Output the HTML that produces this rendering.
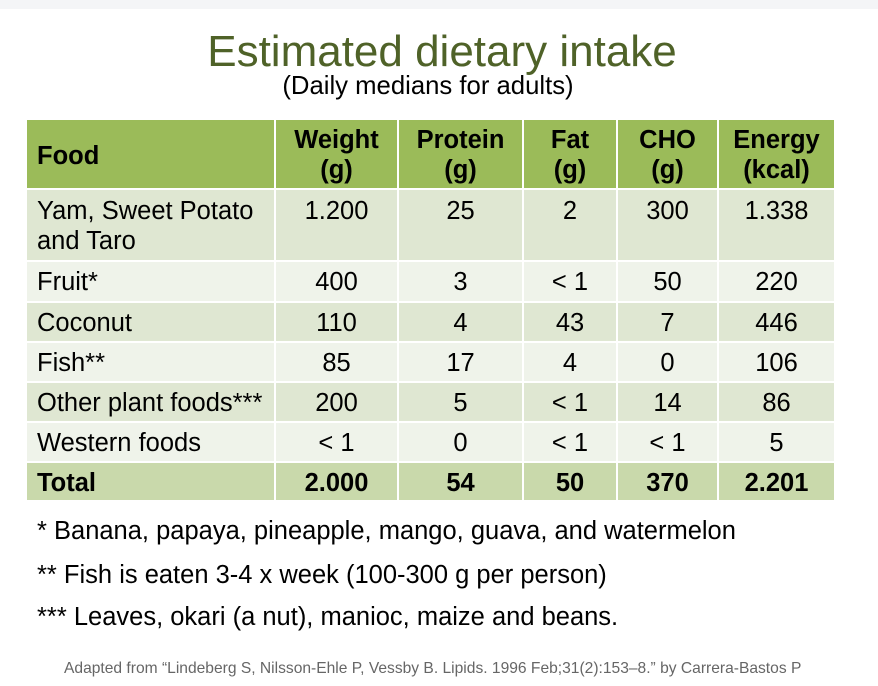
<!DOCTYPE html>
<html><head><meta charset="utf-8"><style>
body{margin:0;width:878px;height:686px;background:#fff;font-family:"Liberation Sans",Arial,sans-serif;position:relative;overflow:hidden;color:#000}
.top{position:absolute;left:0;top:0;width:878px;height:9px;background:#f4f5f7}
.t{position:absolute;white-space:nowrap}
.c{position:absolute;box-sizing:border-box;font-size:25.5px;line-height:30px;text-align:center;padding-top:6px;white-space:nowrap}
.l{text-align:left;padding-left:10px}
.b{font-weight:bold}
</style></head><body>
<div class="top"></div>
<div class="t" style="left:0;width:884px;text-align:center;top:27px;font-size:44px;color:#4f6228">Estimated dietary intake</div>
<div class="t" style="left:0;width:856px;text-align:center;top:72px;font-size:25.7px">(Daily medians for adults)</div>
<div id="tbl"></div>
<div class="t" style="left:37px;top:517px;font-size:25.5px">* Banana, papaya, pineapple, mango, guava, and watermelon</div>
<div class="t" style="left:37px;top:561px;font-size:25.5px">** Fish is eaten 3-4 x week (100-300 g per person)</div>
<div class="t" style="left:37px;top:603px;font-size:25.5px">*** Leaves, okari (a nut), manioc, maize and beans.</div>
<div class="t" style="left:64px;top:660px;font-size:15.6px;color:#666">Adapted from “Lindeberg S, Nilsson-Ehle P, Vessby B. Lipids. 1996 Feb;31(2):153–8.” by Carrera-Bastos P</div>
<script>
var cols=[27,275,398,523,617,718,835];
var rows=[120,189,261,302,342,382,422,462,501];
var data=[
["Food","Weight<br>(g)","Protein<br>(g)","Fat<br>(g)","CHO<br>(g)","Energy<br>(kcal)"],
["Yam, Sweet Potato<br>and Taro","1.200","25","2","300","1.338"],
["Fruit*","400","3","&lt; 1","50","220"],
["Coconut","110","4","43","7","446"],
["Fish**","85","17","4","0","106"],
["Other plant foods***","200","5","&lt; 1","14","86"],
["Western foods","&lt; 1","0","&lt; 1","&lt; 1","5"],
["Total","2.000","54","50","370","2.201"]];
var h="";
for(var r=0;r<8;r++){
 var bg=r==0?"#9bbb59":r==7?"#c9d9ab":(r%2==1?"#dfe7d2":"#eff3ea");
 for(var c=0;c<6;c++){
  var x=cols[c]+(c?1:0),w=cols[c+1]-x-1,y=rows[r]+(r?1:0),hh=rows[r+1]-y-1;
  var cls="c"+(c==0?" l":"")+((r==0||r==7)?" b":"");
  var pt=r==0?(c==0?"padding-top:21px;":"padding-top:5px;"):(r==1?"padding-top:6px;":"padding-top:5px;");
  h+='<div class="'+cls+'" style="left:'+x+'px;top:'+y+'px;width:'+w+'px;height:'+hh+'px;background:'+bg+';'+pt+'">'+data[r][c]+'</div>';
 }
}
document.getElementById("tbl").innerHTML=h;
</script>
</body></html>
